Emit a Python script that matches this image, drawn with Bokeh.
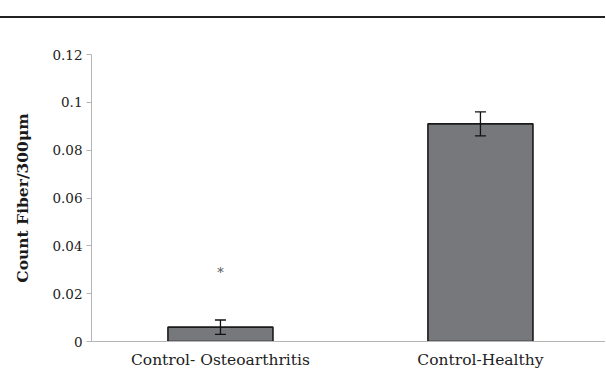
from bokeh.plotting import figure
from bokeh.models import ColumnDataSource, Whisker, FixedTicker, Div, TeeHead
from bokeh.layouts import column
from bokeh.core.properties import value
from bokeh.embed import file_html
from bokeh.resources import INLINE

categories = ["Control- Osteoarthritis", "Control-Healthy"]
means = [0.006, 0.091]
lower = [0.003, 0.086]
upper = [0.009, 0.096]
marks = ["*", ""]
mark_y = [0.029, None]
y_ticks = [0, 0.02, 0.04, 0.06, 0.08, 0.1, 0.12]
y_tick_labels = ["0", "0.02", "0.04", "0.06", "0.08", "0.1", "0.12"]

xs = [i + 1 for i in range(len(categories))]
src = ColumnDataSource(dict(x=xs, top=means, lower=lower, upper=upper))
msrc = ColumnDataSource(dict(x=[xs[i] for i in range(len(xs)) if marks[i]],
                             y=[mark_y[i] for i in range(len(xs)) if marks[i]],
                             t=[m for m in marks if m]))

FONT = "DejaVu Serif"

p = figure(width=605, height=357, output_backend="svg", toolbar_location=None,
           x_range=(0.504, 2.481), y_range=(0, 0.12),
           min_border_left=91, min_border_right=0, min_border_top=36, min_border_bottom=34)
p.outline_line_color = None
p.grid.grid_line_color = None

p.vbar(x="x", top="top", width=0.404, bottom=0, source=src,
       fill_color="#77787c", line_color="#1a1a1a", line_width=1.6)
w = Whisker(base="x", lower="lower", upper="upper", source=src,
            line_color="#111111", line_width=1.3, level="annotation",
            upper_head=TeeHead(size=11, line_color="#111111", line_width=1.3),
            lower_head=TeeHead(size=11, line_color="#111111", line_width=1.3))
p.add_layout(w)
p.text(x="x", y="y", text="t", source=msrc, text_align="center", text_baseline="middle",
       text_font=value(FONT), text_font_size="13px", text_color="#555555")

p.yaxis.ticker = FixedTicker(ticks=y_ticks)
p.yaxis.major_label_overrides = {t: l for t, l in zip(y_ticks, y_tick_labels)}
p.yaxis.axis_line_color = "#b5b5b5"
p.yaxis.major_tick_line_color = "#b5b5b5"
p.yaxis.major_tick_out = 5
p.yaxis.major_tick_in = 0
p.yaxis.minor_tick_line_color = None
p.yaxis.major_label_text_font = FONT
p.yaxis.major_label_text_font_size = "13.5px"
p.yaxis.major_label_text_color = "#222222"
p.yaxis.major_label_standoff = 4
p.yaxis.axis_label = "Count Fiber/300μm"
p.yaxis.axis_label_text_font = FONT
p.yaxis.axis_label_text_font_style = "bold"
p.yaxis.axis_label_text_font_size = "15.5px"
p.yaxis.axis_label_text_color = "#1a1a1a"
p.yaxis.axis_label_standoff = 17

p.xaxis.ticker = FixedTicker(ticks=xs)
p.xaxis.major_label_overrides = {x: c for x, c in zip(xs, categories)}
p.xaxis.axis_line_color = "#b5b5b5"
p.xaxis.major_tick_line_color = None
p.xaxis.minor_tick_line_color = None
p.xaxis.major_label_text_font = FONT
p.xaxis.major_label_text_font_size = "15.5px"
p.xaxis.major_label_text_color = "#222222"
p.xaxis.major_label_standoff = 3

div = Div(text="", width=605, height=18,
          styles={"border-bottom": "2px solid #222222", "margin": "0"})

layout = column(div, p, spacing=0)
open("out.html", "w").write(file_html(layout, INLINE))
